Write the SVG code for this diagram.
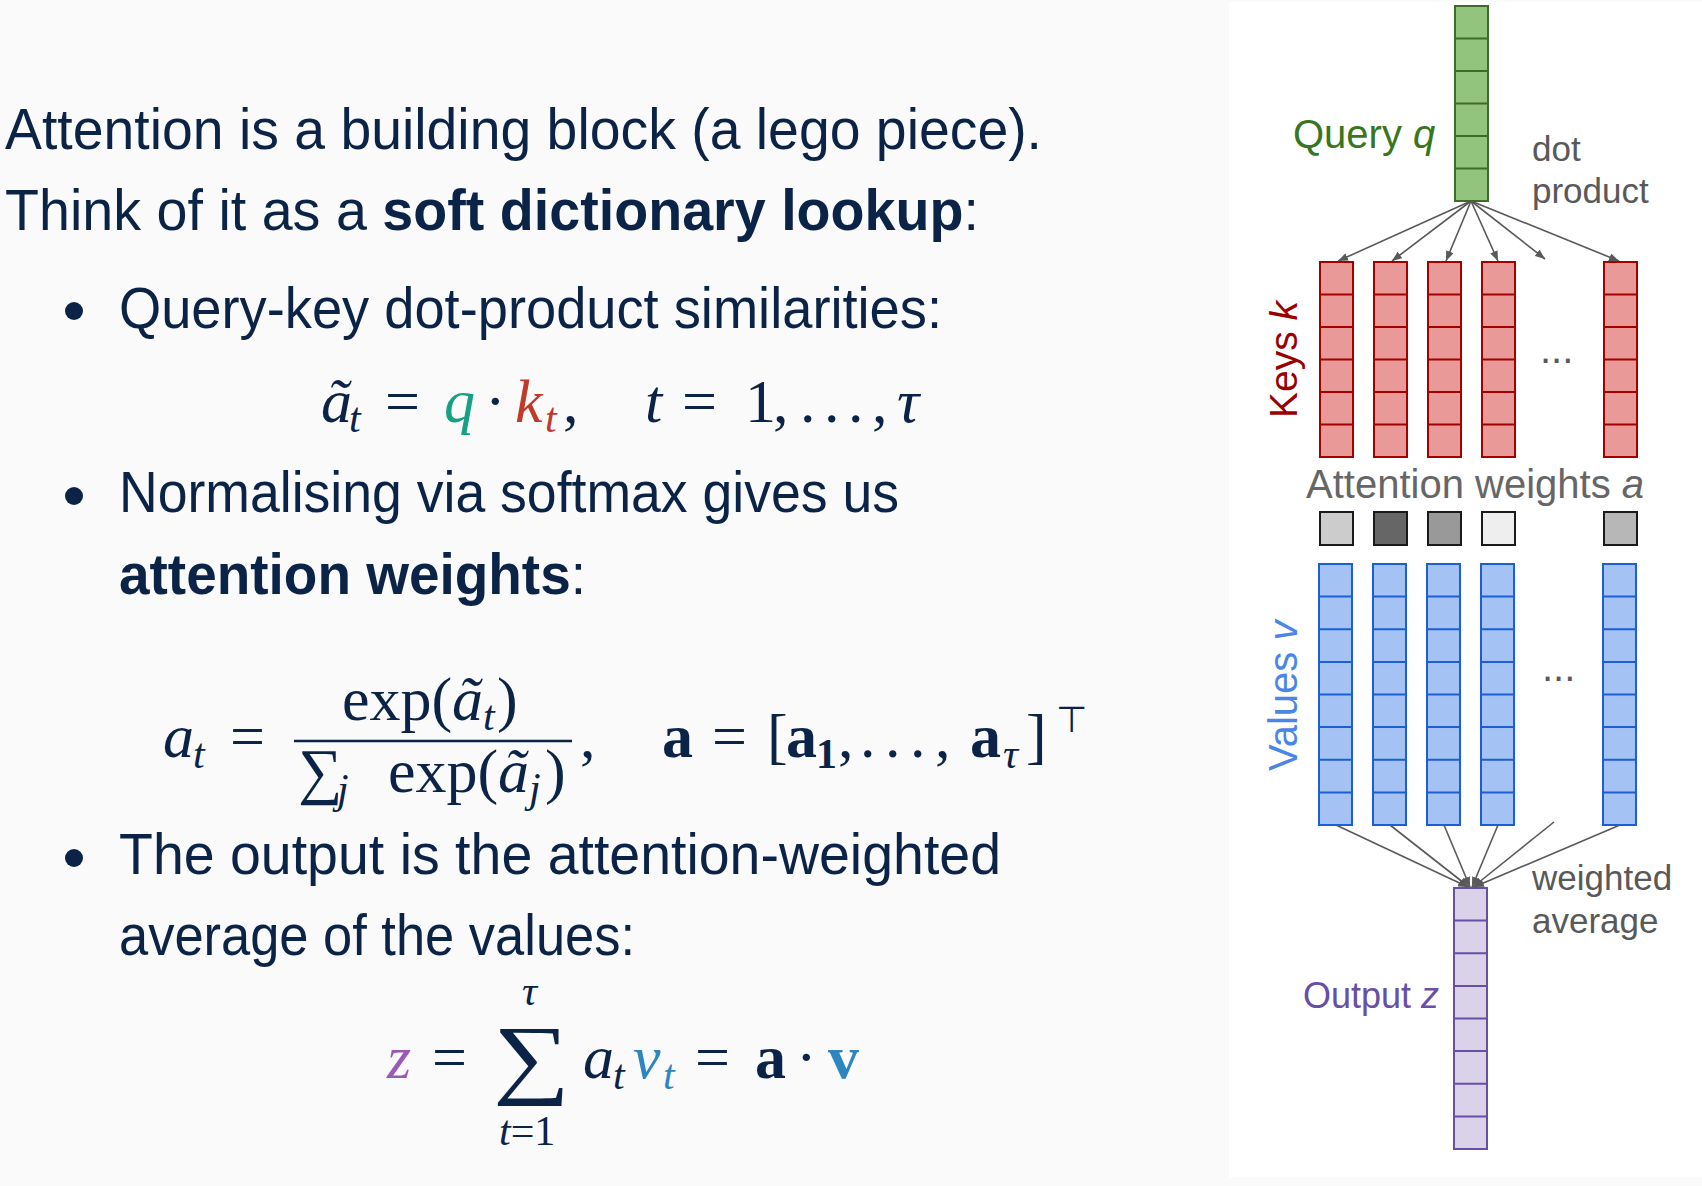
<svg xmlns="http://www.w3.org/2000/svg" xmlns:xlink="http://www.w3.org/1999/xlink" width="1702" height="1186" viewBox="0 0 1702 1186">
<style>
.body{font-family:'Liberation Sans',Arial,sans-serif;font-size:58px;fill:#0a2346}
.m{font-family:'Liberation Serif','Times New Roman',serif;font-size:62px;fill:#0a2346}
.s{font-size:42px}
.i{font-style:italic}
.b{font-weight:bold}
.lbl{font-family:'Liberation Sans',Arial,sans-serif}
.conn{stroke:#595959;stroke-width:1.6;fill:none}
.keyc{fill:#ea9999;stroke:#a30000;stroke-width:2}
.valc{fill:#a4c2f4;stroke:#1a5fd6;stroke-width:2}
.qc{fill:#93c47d;stroke:#3d6b2a;stroke-width:2}
.oc{fill:#d9d2e9;stroke:#674ea7;stroke-width:2}
.w{stroke:#1a1a1a;stroke-width:2}
</style>
<defs>
<marker id="ah" viewBox="0 0 10 8" refX="10" refY="4" markerWidth="10" markerHeight="8" markerUnits="userSpaceOnUse" orient="auto">
<path d="M0,0 L10,4 L0,8 z" fill="#595959"/>
</marker>
<g id="col6">
<rect x="0" y="0" width="33" height="195"/>
<path d="M0,32.5H33M0,65H33M0,97.5H33M0,130H33M0,162.5H33"/>
</g>
<g id="col8">
<rect x="0" y="0" width="33" height="261"/>
<path d="M0,32.6H33M0,65.2H33M0,97.9H33M0,130.5H33M0,163.1H33M0,195.7H33M0,228.4H33"/>
</g>
</defs>
<rect x="0" y="0" width="1702" height="1186" fill="#fafafa"/>
<rect x="1229" y="2" width="473" height="1175" fill="#ffffff"/>

<g id="text-left">
<text class="body" x="5" y="149" textLength="1037" lengthAdjust="spacingAndGlyphs">Attention is a building block (a lego piece).</text>
<text class="body" x="5" y="230" textLength="974" lengthAdjust="spacingAndGlyphs">Think of it as a <tspan class="b">soft dictionary lookup</tspan>:</text>
<circle cx="74" cy="311" r="9" fill="#0a2346"/>
<text class="body" x="119" y="328" textLength="823" lengthAdjust="spacingAndGlyphs">Query-key dot-product similarities:</text>
<circle cx="74" cy="496" r="9" fill="#0a2346"/>
<text class="body" x="119" y="512" textLength="780" lengthAdjust="spacingAndGlyphs">Normalising via softmax gives us</text>
<text class="body" x="119" y="594" textLength="467" lengthAdjust="spacingAndGlyphs"><tspan class="b">attention weights</tspan>:</text>
<circle cx="74" cy="858" r="9" fill="#0a2346"/>
<text class="body" x="119" y="874" textLength="882" lengthAdjust="spacingAndGlyphs">The output is the attention-weighted</text>
<text class="body" x="119" y="955" textLength="516" lengthAdjust="spacingAndGlyphs">average of the values:</text>
</g>

<g id="eq1" class="m">
<text class="m i" x="321" y="422">ã</text>
<text class="m i s" x="349" y="432">t</text>
<text class="m" x="385" y="422">=</text>
<text class="m i" x="444" y="422" style="fill:#16a085">q</text>
<text class="m" x="485" y="422">·</text>
<text class="m i" x="515" y="422" style="fill:#c0392b">k</text>
<text class="m i s" x="545" y="432" style="fill:#c0392b">t</text>
<text class="m" x="563" y="422">,</text>
<text class="m i" x="645" y="422">t</text>
<text class="m" x="682" y="422">=</text>
<text class="m" x="745" y="422">1</text>
<text class="m" x="773" y="422">,</text>
<text class="m" x="800" y="422">.</text>
<text class="m" x="824" y="422">.</text>
<text class="m" x="848" y="422">.</text>
<text class="m" x="872" y="422">,</text>
<text class="m i" x="897" y="422">τ</text>
</g>

<g id="eq2">
<text class="m i" x="163" y="757">a</text>
<text class="m i s" x="193" y="768">t</text>
<text class="m" x="230" y="757">=</text>
<text class="m" x="342" y="720">exp(</text>
<text class="m i" x="452" y="720">ã</text>
<text class="m i s" x="483" y="730">t</text>
<text class="m" x="497" y="720">)</text>
<line x1="294" y1="741" x2="572" y2="741" stroke="#0a2346" stroke-width="2.5"/>
<text class="m" x="298" y="792">∑</text>
<text class="m i s" x="337" y="803">j</text>
<text class="m" x="388" y="792">exp(</text>
<text class="m i" x="498" y="792">ã</text>
<text class="m i s" x="529" y="802">j</text>
<text class="m" x="545" y="792">)</text>
<text class="m" x="580" y="757">,</text>
<text class="m b" x="662" y="757">a</text>
<text class="m" x="712" y="757">=</text>
<text class="m" x="767" y="757">[</text>
<text class="m b" x="786" y="757">a</text>
<text class="m b s" x="816" y="768">1</text>
<text class="m" x="838" y="757">,</text>
<text class="m" x="860" y="757">.</text>
<text class="m" x="885" y="757">.</text>
<text class="m" x="910" y="757">.</text>
<text class="m" x="935" y="757">,</text>
<text class="m b" x="970" y="757">a</text>
<text class="m i s" x="1003" y="768">τ</text>
<text class="m" x="1026" y="757">]</text>
<text x="1056" y="732" style="font-family:'DejaVu Sans',sans-serif;font-size:36px;fill:#0a2346">⊤</text>
</g>

<g id="eq3">
<text class="m i" x="387" y="1078" style="fill:#9b59b6">z</text>
<text class="m" x="432" y="1078">=</text>
<text class="m" x="493" y="1087" style="font-size:89px" textLength="77" lengthAdjust="spacingAndGlyphs">∑</text>
<text class="m i s" x="522" y="1005">τ</text>
<text class="m s" x="499" y="1145"><tspan class="i">t</tspan>=1</text>
<text class="m i" x="583" y="1078">a</text>
<text class="m i s" x="613" y="1089">t</text>
<text class="m i" x="633" y="1078" style="fill:#2e86c1">v</text>
<text class="m i s" x="663" y="1089" style="fill:#2e86c1">t</text>
<text class="m" x="695" y="1078">=</text>
<text class="m b" x="755" y="1078">a</text>
<text class="m" x="796" y="1078">·</text>
<text class="m b" x="828" y="1078" style="fill:#2e86c1">v</text>
</g>

<g id="connectors">
<line class="conn" x1="1471" y1="201" x2="1338" y2="261" marker-end="url(#ah)"/>
<line class="conn" x1="1471" y1="201" x2="1392" y2="261" marker-end="url(#ah)"/>
<line class="conn" x1="1471" y1="201" x2="1446" y2="261" marker-end="url(#ah)"/>
<line class="conn" x1="1471" y1="201" x2="1498" y2="261" marker-end="url(#ah)"/>
<line class="conn" x1="1471" y1="201" x2="1545" y2="259" marker-end="url(#ah)"/>
<line class="conn" x1="1471" y1="201" x2="1619" y2="261" marker-end="url(#ah)"/>
<line class="conn" x1="1336" y1="825" x2="1468" y2="887" marker-end="url(#ah)"/>
<line class="conn" x1="1390" y1="825" x2="1469" y2="887" marker-end="url(#ah)"/>
<line class="conn" x1="1444" y1="825" x2="1470" y2="887" marker-end="url(#ah)"/>
<line class="conn" x1="1498" y1="825" x2="1472" y2="887" marker-end="url(#ah)"/>
<line class="conn" x1="1554" y1="822" x2="1473" y2="887" marker-end="url(#ah)"/>
<line class="conn" x1="1620" y1="825" x2="1474" y2="887" marker-end="url(#ah)"/>
</g>

<g id="query" class="qc"><use xlink:href="#col6" x="1455" y="6"/></g>
<g id="key1" class="keyc"><use xlink:href="#col6" x="1320" y="262"/></g>
<g id="key2" class="keyc"><use xlink:href="#col6" x="1374" y="262"/></g>
<g id="key3" class="keyc"><use xlink:href="#col6" x="1428" y="262"/></g>
<g id="key4" class="keyc"><use xlink:href="#col6" x="1482" y="262"/></g>
<g id="keyN" class="keyc"><use xlink:href="#col6" x="1604" y="262"/></g>

<g id="weights">
<rect class="w" x="1320" y="512" width="33" height="33" fill="#cccccc"/>
<rect class="w" x="1374" y="512" width="33" height="33" fill="#666666"/>
<rect class="w" x="1428" y="512" width="33" height="33" fill="#999999"/>
<rect class="w" x="1482" y="512" width="33" height="33" fill="#eeeeee"/>
<rect class="w" x="1604" y="512" width="33" height="33" fill="#b7b7b7"/>
</g>

<g id="val1" class="valc"><use xlink:href="#col8" x="1319" y="564"/></g>
<g id="val2" class="valc"><use xlink:href="#col8" x="1373" y="564"/></g>
<g id="val3" class="valc"><use xlink:href="#col8" x="1427" y="564"/></g>
<g id="val4" class="valc"><use xlink:href="#col8" x="1481" y="564"/></g>
<g id="valN" class="valc"><use xlink:href="#col8" x="1603" y="564"/></g>

<g id="output" class="oc"><use xlink:href="#col8" x="1454" y="888"/></g>

<g id="labels" class="lbl">
<text x="1293" y="148" font-size="40" fill="#38761d">Query <tspan font-style="italic">q</tspan></text>
<text x="1532" y="161" font-size="35" fill="#595959">dot</text>
<text x="1532" y="203" font-size="35" fill="#595959">product</text>
<text transform="translate(1297,418) rotate(-90)" font-size="39" fill="#990000">Keys <tspan font-style="italic">k</tspan></text>
<text x="1540" y="363" font-size="40" fill="#595959">...</text>
<text x="1306" y="498" font-size="40" fill="#666666">Attention weights <tspan font-style="italic">a</tspan></text>
<text transform="translate(1297,771) rotate(-90)" font-size="40" fill="#4a86e8">Values <tspan font-style="italic">v</tspan></text>
<text x="1542" y="681" font-size="40" fill="#595959">...</text>
<text x="1532" y="890" font-size="35" fill="#595959">weighted</text>
<text x="1532" y="933" font-size="35" fill="#595959">average</text>
<text x="1303" y="1008" font-size="36" fill="#674ea7">Output <tspan font-style="italic">z</tspan></text>
</g>
</svg>
